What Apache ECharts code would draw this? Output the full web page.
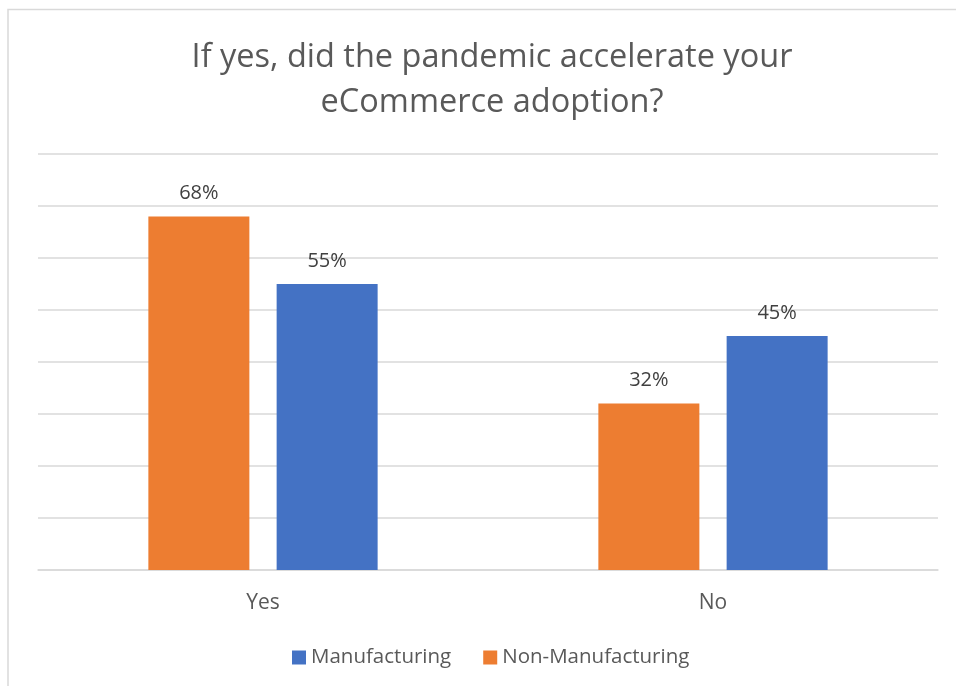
<!DOCTYPE html>
<html>
<head>
<meta charset="utf-8">
<script src="https://cdn.jsdelivr.net/npm/echarts@6/dist/echarts.min.js"></script>
<style>
  html, body { margin: 0; padding: 0; background: #ffffff; }
  #chart { width: 956px; height: 686px; }
</style>
</head>
<body>
<div id="chart"></div>
<script>
// Survey answers and the share of respondents in each group (percent)
const categories = ['Yes', 'No'];
const nonManufacturing = [68, 32];
const manufacturing = [55, 45];
const legendOrder = ['Manufacturing', 'Non-Manufacturing'];
const titleText = 'If yes, did the pandemic accelerate your\neCommerce adoption?';

const FONT = '"Open Sans", "Noto Sans", sans-serif';

const chart = echarts.init(document.getElementById('chart'), null, { renderer: 'canvas' });

const labelStyle = {
  show: true,
  position: 'top',
  distance: 13,
  formatter: '{c}%',
  color: '#404040',
  fontFamily: FONT,
  fontSize: 20
};

chart.setOption({
  animation: false,
  backgroundColor: '#ffffff',
  graphic: [{
    type: 'rect',
    shape: { x: 8, y: 9.5, width: 1000, height: 800 },
    style: { fill: 'none', stroke: '#d9d9d9', lineWidth: 1.5 },
    silent: true
  }],
  title: {
    text: titleText,
    left: 487,
    top: 30,
    textAlign: 'center',
    textStyle: {
      color: '#595959',
      fontFamily: FONT,
      fontWeight: 'normal',
      fontSize: 32.5,
      lineHeight: 45
    }
  },
  legend: {
    data: legendOrder,
    bottom: 13,
    left: 287,
    icon: 'rect',
    itemWidth: 14,
    itemHeight: 14,
    itemGap: 32,
    textStyle: { color: '#595959', fontFamily: FONT, fontSize: 20.5 }
  },
  grid: { left: 38, right: 18, top: 154, bottom: 116, containLabel: false },
  xAxis: {
    type: 'category',
    data: categories,
    axisLine: { lineStyle: { color: '#d9d9d9', width: 1.5 } },
    axisTick: { show: false },
    axisLabel: { color: '#595959', fontFamily: FONT, fontSize: 21, margin: 23 }
  },
  yAxis: {
    type: 'value',
    min: 0,
    max: 80,
    interval: 10,
    axisLine: { show: false },
    axisTick: { show: false },
    axisLabel: { show: false },
    splitLine: { lineStyle: { color: '#d9d9d9', width: 1.5 } }
  },
  series: [
    {
      name: 'Non-Manufacturing',
      type: 'bar',
      data: nonManufacturing,
      itemStyle: { color: '#ed7d31' },
      barWidth: 101,
      barGap: '27%',
      label: labelStyle
    },
    {
      name: 'Manufacturing',
      type: 'bar',
      data: manufacturing,
      itemStyle: { color: '#4472c4' },
      barWidth: 101,
      barGap: '27%',
      label: labelStyle
    }
  ]
});
</script>
</body>
</html>
